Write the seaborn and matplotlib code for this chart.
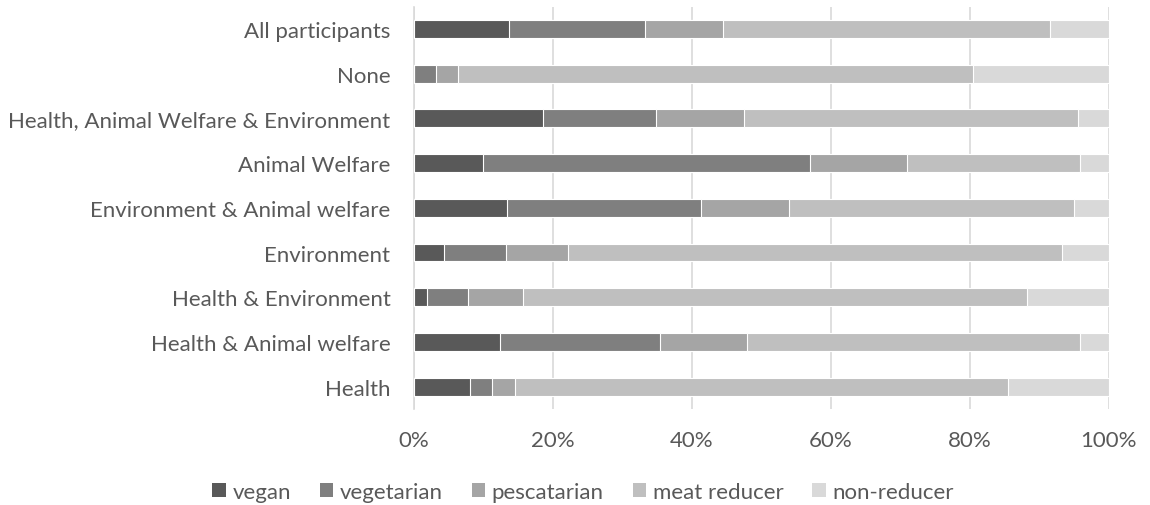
import matplotlib
matplotlib.use("Agg")
import matplotlib.pyplot as plt
from matplotlib.patches import Patch
import numpy as np
import pandas as pd
import seaborn as sns

categories = [
    "All participants",
    "None",
    "Health, Animal Welfare & Environment",
    "Animal Welfare",
    "Environment & Animal welfare",
    "Environment",
    "Health & Environment",
    "Health & Animal welfare",
    "Health",
]
groups = ["vegan", "vegetarian", "pescatarian", "meat reducer", "non-reducer"]

vegan = [13.7, 0.0, 18.6, 9.9, 13.4, 4.3, 1.9, 12.4, 8.1]
vegetarian = [19.5, 3.2, 16.2, 47.1, 27.9, 8.9, 5.9, 23.0, 3.1]
pescatarian = [11.3, 3.2, 12.7, 13.9, 12.7, 9.0, 7.9, 12.5, 3.3]
meat_reducer = [47.0, 74.1, 48.1, 25.0, 41.0, 71.1, 72.5, 47.9, 71.0]
non_reducer = [8.5, 19.5, 4.4, 4.1, 5.0, 6.7, 11.8, 4.2, 14.5]

colors = ["#595959", "#7f7f7f", "#a5a5a5", "#bfbfbf", "#d9d9d9"]
text_color = "#595959"
grid_color = "#d9d9d9"

df = pd.DataFrame(
    {
        "category": categories,
        "vegan": vegan,
        "vegetarian": vegetarian,
        "pescatarian": pescatarian,
        "meat reducer": meat_reducer,
        "non-reducer": non_reducer,
    }
)
# cumulative shares so that each group is drawn as a stacked segment
cum = df[groups].cumsum(axis=1)
cum["category"] = df["category"]

sns.set_theme(style="white")
plt.rcParams["font.family"] = ["Lato", "DejaVu Sans"]

fig = plt.figure(figsize=(11.5, 5.06), dpi=100)
ax = fig.add_axes([0.36, 0.1897, 0.6043, 0.7953])

# draw from the longest cumulative bar to the shortest so segments stack
for grp, col in reversed(list(zip(groups, colors))):
    sns.barplot(
        data=cum, x=grp, y="category", order=categories, color=col,
        width=0.4, orient="h", edgecolor="white", linewidth=0.8,
        ax=ax, zorder=3,
    )

ax.set_xlim(0, 100)
ax.set_xticks([0, 20, 40, 60, 80, 100])
ax.set_xticklabels([f"{v}%" for v in [0, 20, 40, 60, 80, 100]])
ax.set_xlabel("")
ax.set_ylabel("")
ax.xaxis.grid(True, color=grid_color, linewidth=1.2, zorder=0)
ax.yaxis.grid(False)
ax.set_axisbelow(True)
for side in ["top", "right", "bottom"]:
    ax.spines[side].set_visible(False)
ax.spines["left"].set_color(grid_color)
ax.spines["left"].set_linewidth(1.2)
ax.tick_params(axis="x", length=0, pad=15, labelsize=16, labelcolor=text_color)
ax.tick_params(axis="y", length=0, pad=17, labelsize=16, labelcolor=text_color)

handles = [Patch(facecolor=c, edgecolor="none") for c in colors]
fig.legend(
    handles, groups, loc="center", bbox_to_anchor=(0.507, 0.026), ncol=5,
    frameon=False, fontsize=16, labelcolor=text_color, handlelength=0.6,
    handleheight=0.6, handletextpad=0.3, columnspacing=1.3,
)

fig.savefig("out.png", dpi=100, facecolor="white")
